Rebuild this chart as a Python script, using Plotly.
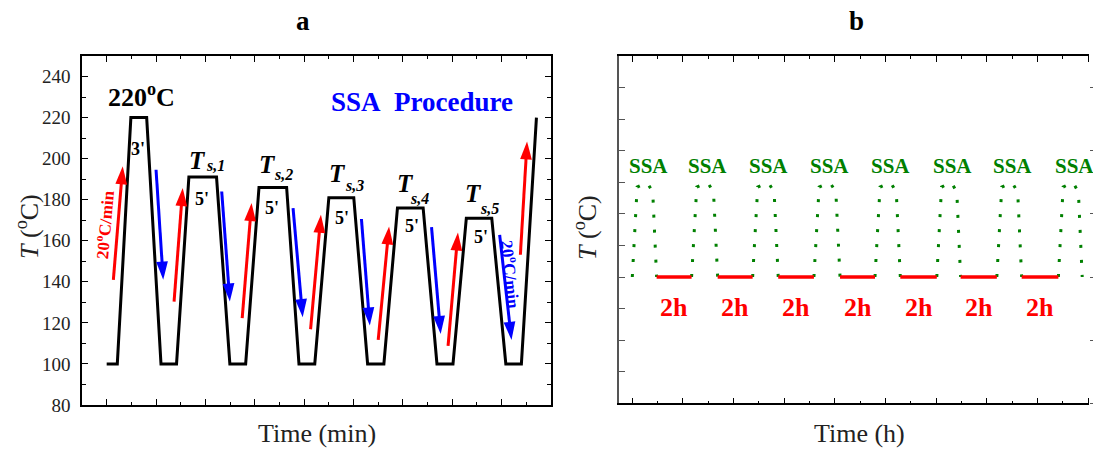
import plotly.graph_objects as go

FONT = "Liberation Serif, Times New Roman, serif"
W, H = 1093, 450

# ---------------- panel a: SSA temperature programme ----------------
# time (min) / temperature (°C) vertices of the programme
prog_t = [10.0, 14.3, 19.8, 26.2, 32.0, 38.3, 43.3, 54.5, 59.9, 66.3, 71.7, 82.9,
          87.9, 94.3, 100.0, 110.1, 115.7, 122.3, 127.8, 138.2, 143.8, 150.3,
          155.7, 166.0, 171.7, 178.0, 184.1]
prog_T = [100, 100, 220, 220, 100, 100, 191, 191, 100, 100, 186, 186,
          100, 100, 181, 181, 100, 100, 176, 176, 100, 100,
          171, 171, 100, 100, 220]

# heating arrows (red) and cooling arrows (blue): tail -> tip
heat_tail_t = [12.7, 37.3, 64.9, 92.6, 120.0, 148.3, 177.6]
heat_tail_T = [141.0, 130.4, 122.3, 116.9, 111.7, 108.8, 153.2]
heat_tip_t = [16.5, 40.8, 68.7, 96.8, 124.4, 152.3, 180.3]
heat_tip_T = [196.3, 185.7, 178.4, 172.7, 167.0, 164.0, 208.4]

cool_tail_t = [30.0, 56.6, 85.5, 113.2, 141.6, 169.2]
cool_tail_T = [194.6, 184.0, 175.9, 170.6, 166.7, 162.9]
cool_tip_t = [32.9, 59.9, 89.4, 116.6, 145.3, 174.0]
cool_tip_T = [141.0, 130.4, 122.8, 118.7, 114.6, 111.7]

# self-nucleation / annealing steps
ts_names = ["s,1", "s,2", "s,3", "s,4", "s,5"]
ts_T_pos = [(42.5, 199.0), (70.7, 197.3), (99.1, 192.9), (126.7, 187.8), (154.3, 183.1)]
ts_sub_pos = [(49.4, 196.6), (76.8, 192.2), (105.8, 187.1), (132.0, 180.5), (160.3, 175.6)]
hold_labels = ["3'", "5'", "5'", "5'", "5'", "5'"]
hold_label_pos = [(22.5, 204.9), (48.8, 180.5), (77.0, 176.2), (105.3, 170.9),
                  (133.5, 167.3), (161.6, 162.0)]

# ---------------- panel b: repeated SSA + 2 h isothermal holds ----------------
hold_start = [0.96, 3.37, 5.76, 8.20, 10.58, 12.96, 15.37]
hold_end = [2.34, 4.75, 7.17, 9.58, 12.02, 14.39, 16.82]
hold_level = 140
ssa_start = [0.0] + hold_end
ssa_end = hold_start + [17.76]
# shape of one SSA excursion: fraction of the cycle width, temperature
ssa_profile_frac = [0.0, 0.20, 0.61, 0.84, 1.0]
ssa_profile_T = [140.0, 168.5, 170.0, 166.9, 140.0]

RED = "rgb(255,0,0)"
BLUE = "rgb(0,0,255)"
GREEN = "rgb(0,128,0)"
AXC = "#222222"

fig = go.Figure()

fig.add_trace(go.Scatter(x=prog_t, y=prog_T, mode="lines",
                         line=dict(color="black", width=3),
                         xaxis="x", yaxis="y", hoverinfo="skip"))


def arrow(x0, y0, x1, y1, color):
    fig.add_trace(go.Scatter(
        x=[x0, x1], y=[y0, y1], mode="lines+markers",
        line=dict(color=color, width=3),
        marker=dict(symbol="arrow", size=[0, 19], color=color, opacity=1,
                    angleref="previous", line=dict(width=0)),
        xaxis="x", yaxis="y", hoverinfo="skip"))


for a, b, c, d in zip(heat_tail_t, heat_tail_T, heat_tip_t, heat_tip_T):
    arrow(a, b, c, d, RED)
for a, b, c, d in zip(cool_tail_t, cool_tail_T, cool_tip_t, cool_tip_T):
    arrow(a, b, c, d, BLUE)

# panel b traces
for s, e in zip(ssa_start, ssa_end):
    fig.add_trace(go.Scatter(
        x=[s + f * (e - s) for f in ssa_profile_frac], y=ssa_profile_T,
        mode="lines", line=dict(color=GREEN, width=3, dash="3px,12px"),
        xaxis="x2", yaxis="y2", hoverinfo="skip"))
for s, e in zip(hold_start, hold_end):
    fig.add_trace(go.Scatter(
        x=[s, e], y=[hold_level, hold_level], mode="lines",
        line=dict(color=RED, width=3.5),
        xaxis="x2", yaxis="y2", hoverinfo="skip"))
# right-hand tick axis of panel b
fig.add_trace(go.Scatter(x=[None], y=[None], xaxis="x2", yaxis="y3",
                         showlegend=False, hoverinfo="skip"))

ann = []


def txt(x, y, text, size, color="black", xref="x", yref="y", angle=0,
        xanchor="center", yanchor="middle"):
    ann.append(dict(x=x, y=y, xref=xref, yref=yref, text=text, showarrow=False,
                    textangle=angle, xanchor=xanchor, yanchor=yanchor,
                    font=dict(family=FONT, size=size, color=color)))


# panel a labels
txt(24.3, 230.6, "<b>220<sup>o</sup>C</b>", 26)
txt(137.9, 227.4, "<b>SSA\u00a0\u00a0Procedure</b>", 27, BLUE)
for name, (tx, ty), (sx, sy) in zip(ts_names, ts_T_pos, ts_sub_pos):
    txt(tx, ty, "<b><i>T</i></b>", 25, xanchor="left")
    txt(sx, sy, "<b><i>" + name + "</i></b>", 16, xanchor="left")
for lab, (hx, hy) in zip(hold_labels, hold_label_pos):
    txt(hx, hy, "<b>" + lab + "</b>", 18)
txt(8.9, 168.2, "<b>20<sup>o</sup>C/min</b>", 17, RED, angle=-85)
txt(174.1, 143.4, "<b>20<sup>o</sup>C/min</b>", 17, BLUE, angle=84)

# panel b labels
for s in ssa_start:
    txt(s + 0.63, 175.3, "<b>SSA</b>", 21, GREEN, xref="x2", yref="y2")
for s, e in zip(hold_start, hold_end):
    txt((s + e) / 2, 130.5, "<b>2h</b>", 26, RED, xref="x2", yref="y2")


# panel titles and axis titles (paper coordinates from pixel positions)
def paper(px, py):
    return px / W, 1 - py / H


for (px, py), t, s, ang in [((302.7, 21.3), "<b>a</b>", 27, 0),
                            ((856.0, 21.0), "<b>b</b>", 27, 0),
                            ((316.5, 433.0), "Time (min)", 26, 0),
                            ((859.0, 433.0), "Time (h)", 26, 0),
                            ((27.0, 227.0), "<i>T</i> (<sup>o</sup>C)", 26, -90),
                            ((585.0, 228.0), "<i>T</i> (<sup>o</sup>C)", 26, -90)]:
    x, y = paper(px, py)
    txt(x, y, t, s, AXC if s == 26 else "black", xref="paper", yref="paper", angle=ang)

axis_common = dict(showgrid=False, zeroline=False, showline=True, automargin=False,
                   linecolor="black", linewidth=1.5, ticks="inside",
                   tickcolor="black", tickwidth=1.2)

fig.update_layout(
    width=W, height=H, autosize=False,
    margin=dict(l=0, r=0, t=0, b=0, pad=0),
    paper_bgcolor="white", plot_bgcolor="white",
    showlegend=False,
    font=dict(family=FONT, size=19, color=AXC),
    annotations=ann,
    xaxis=dict(domain=[82 / W, 551 / W], range=[0, 190], tick0=10, dtick=20,
               ticklen=6, mirror="ticks", showticklabels=False,
               minor=dict(dtick=10, tick0=0, ticklen=3, ticks="inside",
                          tickcolor="black", tickwidth=1.2),
               anchor="y", **axis_common),
    yaxis=dict(domain=[1 - 405 / H, 1 - 56 / H], range=[80, 250], tick0=80, dtick=20,
               ticklen=6, mirror="ticks", ticklabelstandoff=6,
               tickfont=dict(family=FONT, size=19, color=AXC),
               minor=dict(dtick=10, ticklen=4, ticks="inside",
                          tickcolor="black", tickwidth=1.2),
               anchor="x", **axis_common),
    xaxis2=dict(domain=[619 / W, 1089.3 / W], range=[-0.525, 18.04], tick0=0, dtick=2,
                ticklen=6, mirror="ticks", showticklabels=False,
                minor=dict(dtick=1, ticklen=3, ticks="inside",
                           tickcolor="black", tickwidth=1.2),
                anchor="y2", **axis_common),
    yaxis2=dict(domain=[1 - 403.3 / H, 1 - 56 / H], range=[100, 210], tick0=100, dtick=10,
                ticklen=6, showticklabels=False, anchor="x2",
                showgrid=False, zeroline=False, showline=True, automargin=False,
                linecolor="#555555", linewidth=1.5, ticks="inside",
                tickcolor="#555555", tickwidth=1.2),
    yaxis3=dict(overlaying="y2", side="right", range=[100, 210], tick0=100, dtick=20,
                ticklen=4, showticklabels=False, anchor="x2",
                showgrid=False, zeroline=False, showline=False, automargin=False,
                ticks="outside", tickcolor="#555555", tickwidth=1.2),
)

fig.write_html("out.html")
